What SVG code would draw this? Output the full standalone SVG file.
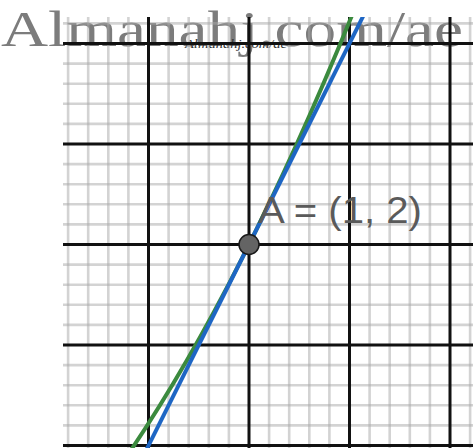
<svg xmlns="http://www.w3.org/2000/svg" width="473" height="448" viewBox="0 0 473 448">
  <style>
    .minor { stroke: #a8a8a8; stroke-opacity: 0.5; stroke-width: 2.6; fill: none; }
    .major { stroke: #111111; stroke-width: 3; fill: none; }
    .wm { font-family: "Liberation Serif", "Times New Roman", serif; fill: #7c7c7c; }
    .lbl { font-family: "Liberation Sans", Arial, sans-serif; fill: #5a5a5a; }
  </style>
  <defs>
    <clipPath id="plot">
      <rect x="63" y="17" width="410" height="431"/>
    </clipPath>
  </defs>
  <rect x="0" y="0" width="473" height="448" fill="#ffffff"/>

  <text class="wm" x="1" y="46" font-size="51" textLength="462" lengthAdjust="spacingAndGlyphs">Almanahj.com/ae</text>
  <text x="185" y="48" font-family="Liberation Serif, Times New Roman, serif" font-size="12" font-style="italic" fill="#333333" textLength="102" lengthAdjust="spacingAndGlyphs">Almanahj.com/ae</text>

  <g id="grid">
    <g class="minor">
      <path d="M68.1 17V448M88.2 17V448M108.3 17V448M128.4 17V448M168.6 17V448M188.7 17V448M208.8 17V448M228.9 17V448M269.1 17V448M289.2 17V448M309.3 17V448M329.4 17V448M369.6 17V448M389.7 17V448M409.8 17V448M429.9 17V448M470.1 17V448"/>
      <path d="M63 23.4H473M63 63.6H473M63 83.7H473M63 103.8H473M63 123.9H473M63 164.1H473M63 184.2H473M63 204.3H473M63 224.4H473M63 264.6H473M63 284.7H473M63 304.8H473M63 324.9H473M63 365.1H473M63 385.2H473M63 405.3H473M63 425.4H473"/>
    </g>
    <g class="major">
      <path d="M148.5 17V448M249 17V448M349.5 17V448M450 17V448"/>
      <path d="M63 43.5H473M63 144H473M63 244.5H473M63 345H473M63 445.5H473"/>
    </g>
  </g>

  <g id="connectors" clip-path="url(#plot)">
    <path id="curve-green" d="M128.4 453.9Q246.5 280 364.6 -15.9" fill="none" stroke="#3b8a3e" stroke-width="4"/>
    <path id="line-blue" d="M143.5 455.55L374.6 -6.75" fill="none" stroke="#1e66c4" stroke-width="4"/>
  </g>

  <g id="pointA">
    <circle cx="249" cy="244.5" r="10" fill="#646464" stroke="#1a1a1a" stroke-width="1.5"/>
    <text class="lbl" x="258" y="223" font-size="37" textLength="164" lengthAdjust="spacingAndGlyphs">A = (1, 2)</text>
  </g>
</svg>
